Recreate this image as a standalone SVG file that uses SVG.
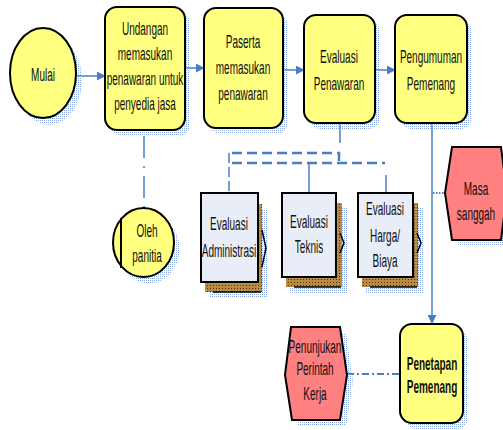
<svg xmlns="http://www.w3.org/2000/svg" width="503" height="430" viewBox="0 0 503 430">
<defs>
<pattern id="dots" width="2" height="2" patternUnits="userSpaceOnUse"><rect width="1" height="1" fill="#8AA8DC"/></pattern>
<pattern id="brown" width="3" height="3" patternUnits="userSpaceOnUse"><rect width="3" height="3" fill="#B98A44"/><rect width="1" height="1" fill="#4A3512"/></pattern>
<marker id="arr" viewBox="0 0 10 10" refX="9" refY="5" markerWidth="9" markerHeight="9" markerUnits="userSpaceOnUse" orient="auto"><path d="M0,0 L10,5 L0,10 z" fill="#4A7EC4"/></marker>
<style>
.y{fill:#FFFF80;stroke:#000;stroke-width:2}
.r{fill:#FF8080;stroke:#000;stroke-width:2}
.c{fill:#E9EDF7;stroke:#000;stroke-width:2}
.sh{fill:url(#dots)}
.br{fill:url(#brown)}
.t{font-family:"Liberation Sans",Arial,sans-serif;font-size:10px;fill:#111;text-anchor:middle}
.b{font-weight:bold}
.ln{fill:none;stroke:#4A7EC4;stroke-width:1.5}
.dl{fill:none;stroke:#4A7EC4;stroke-width:2.5;stroke-dasharray:10 5}
</style>
</defs>
<g id="connectors">
<line class="ln" x1="76" y1="76" x2="105" y2="76" marker-end="url(#arr)"/>
<line class="ln" x1="185" y1="68" x2="204" y2="68" marker-end="url(#arr)"/>
<line class="ln" x1="283" y1="70" x2="304" y2="70" marker-end="url(#arr)"/>
<line class="ln" x1="375" y1="70" x2="395" y2="70" marker-end="url(#arr)"/>
<line class="ln" x1="432" y1="123" x2="432" y2="323" marker-end="url(#arr)"/>
<line class="ln" x1="144" y1="136" x2="144" y2="208" style="stroke-dasharray:22 8 2 8"/>
<line class="ln" x1="340" y1="123" x2="340" y2="143"/>
<path class="dl" d="M232,153 H339 V163"/>
<path class="dl" d="M232,163 H385"/>
<line class="ln" x1="229" y1="153" x2="229" y2="193" style="stroke-dasharray:10 4"/>
<line class="ln" x1="309" y1="163" x2="309" y2="193"/>
<line class="ln" x1="386" y1="175" x2="386" y2="193"/>
<line class="ln" x1="433" y1="193" x2="446" y2="193" style="stroke-width:2;stroke-dasharray:1.5 1.5"/>
<line class="ln" x1="347" y1="374" x2="400" y2="374" style="stroke-width:2;stroke-dasharray:7 3 2 3"/>
</g>
<g id="mulai">
<ellipse class="sh" cx="49" cy="80" rx="33" ry="45"/>
<ellipse class="y" cx="43" cy="73" rx="33" ry="45"/>
<text class="t" transform="translate(43,81) scale(1,1.85)">Mulai</text>
</g>
<g id="undangan">
<rect class="sh" x="110" y="13" width="80" height="123" rx="12"/>
<rect class="y" x="105" y="7" width="80" height="123" rx="12"/>
<text class="t" transform="translate(145,35) scale(1,1.85)"><tspan x="0" y="0">Undangan</tspan><tspan x="0" y="13.5">memasukan</tspan><tspan x="0" y="27">penawaran untuk</tspan><tspan x="0" y="40.5">penyedia jasa</tspan></text>
</g>
<g id="paserta">
<rect class="sh" x="209" y="14" width="79" height="120" rx="12"/>
<rect class="y" x="204" y="8" width="79" height="120" rx="12"/>
<text class="t" transform="translate(243,48) scale(1,1.85)"><tspan x="0" y="0">Paserta</tspan><tspan x="0" y="14.05">memasukan</tspan><tspan x="0" y="28.1">penawaran</tspan></text>
</g>
<g id="evaluasi-penawaran">
<rect class="sh" x="309" y="21" width="71" height="108" rx="12"/>
<rect class="y" x="304" y="15" width="71" height="108" rx="12"/>
<text class="t" transform="translate(339,63) scale(1,1.85)"><tspan x="0" y="0">Evaluasi</tspan><tspan x="0" y="14.6">Penawaran</tspan></text>
</g>
<g id="pengumuman">
<rect class="sh" x="400" y="21" width="72" height="108" rx="12"/>
<rect class="y" x="395" y="15" width="72" height="108" rx="12"/>
<text class="t" transform="translate(431,63) scale(1,1.85)"><tspan x="0" y="0">Pengumuman</tspan><tspan x="0" y="14.6">Pemenang</tspan></text>
</g>
<g id="oleh-panitia">
<ellipse class="sh" cx="149" cy="249" rx="30.5" ry="34.5"/>
<ellipse class="y" cx="143.5" cy="242.5" rx="30.5" ry="34.5"/>
<line x1="121" y1="218" x2="121" y2="268" stroke="#000" stroke-width="2"/>
<text class="t" transform="translate(147,237) scale(1,1.85)"><tspan x="0" y="0">Oleh</tspan><tspan x="0" y="13.5">panitia</tspan></text>
</g>
<g id="evaluasi-administrasi">
<rect class="sh" x="210" y="209" width="58" height="89"/>
<rect class="br" x="205" y="204" width="57" height="88"/>
<line x1="213" y1="292" x2="261" y2="292" stroke="#000" stroke-width="1.5"/>
<path d="M262,230 L266,248 L262,267" fill="none" stroke="#000" stroke-width="1.5"/>
<rect class="c" x="201" y="193" width="57" height="89"/>
<text class="t" transform="translate(229,230) scale(1,1.85)"><tspan x="0" y="0">Evaluasi</tspan><tspan x="0" y="14.6">Administrasi</tspan></text>
</g>
<g id="evaluasi-teknis">
<rect class="sh" x="289" y="208" width="58" height="85"/>
<rect class="br" x="286" y="203" width="56" height="84"/>
<line x1="294" y1="287" x2="341" y2="287" stroke="#000" stroke-width="1.5"/>
<path d="M340,233 L344,243 L340,253" fill="none" stroke="#000" stroke-width="1.5"/>
<rect class="c" x="282" y="193" width="54" height="84"/>
<text class="t" transform="translate(309,228) scale(1,1.85)"><tspan x="0" y="0">Evaluasi</tspan><tspan x="0" y="13.5">Teknis</tspan></text>
</g>
<g id="evaluasi-harga">
<rect class="sh" x="366" y="208" width="58" height="85"/>
<rect class="br" x="362" y="203" width="56" height="84"/>
<line x1="370" y1="287" x2="417" y2="287" stroke="#000" stroke-width="1.5"/>
<path d="M417,233 L421,243 L417,253" fill="none" stroke="#000" stroke-width="1.5"/>
<rect class="c" x="358" y="193" width="55" height="84"/>
<text class="t" transform="translate(385,215) scale(1,1.85)"><tspan x="0" y="0">Evaluasi</tspan><tspan x="0" y="14.6">Harga/</tspan><tspan x="0" y="28.1">Biaya</tspan></text>
</g>
<g id="masa-sanggah">
<rect class="sh" x="458" y="153" width="45" height="93"/>
<polygon class="r" points="452,147 501,147 507,193 501,240 452,240 445,193"/>
<text class="t" transform="translate(476,195) scale(1,1.85)"><tspan x="0" y="0">Masa</tspan><tspan x="0" y="13.5">sanggah</tspan></text>
</g>
<g id="penetapan">
<rect class="sh" x="405" y="330" width="63" height="99" rx="12"/>
<rect class="y" x="400" y="324" width="63" height="99" rx="12"/>
<text class="t b" transform="translate(432,370) scale(1,1.85)"><tspan x="0" y="0">Penetapan</tspan><tspan x="0" y="12.4">Pemenang</tspan></text>
</g>
<g id="penunjukan">
<polygon class="sh" points="297,333 346,333 353,381 346,426 298,426 291,381"/>
<polygon class="r" points="291,327 340,327 347,375 340,420 292,420 285,375"/>
<text class="t" transform="translate(315,353) scale(1,1.85)"><tspan x="0" y="0">Penunjukan</tspan><tspan x="0" y="11.9">Perintah</tspan><tspan x="0" y="25.4">Kerja</tspan></text>
</g>
</svg>
